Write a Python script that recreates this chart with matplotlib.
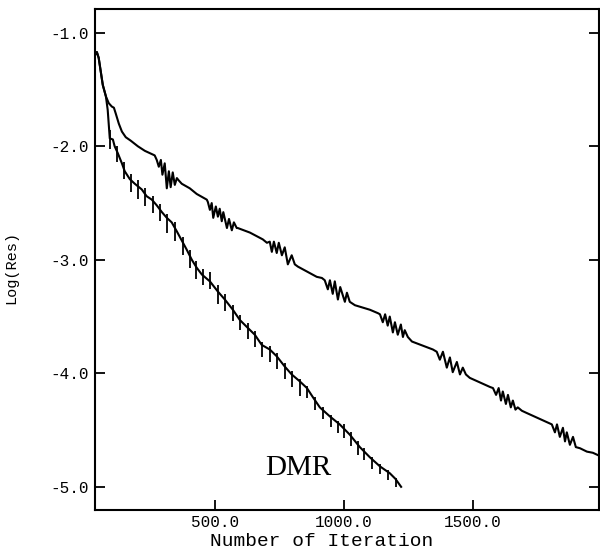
import matplotlib
matplotlib.use("Agg")
import matplotlib.pyplot as plt

plt.rcParams['axes.unicode_minus'] = False

# slower scheme: residual history with oscillation bursts
slow_it = [35, 43, 50, 58, 66, 78, 89, 101, 109, 116, 128, 140, 155, 174, 202, 229, 248, 267,
           275, 283, 291, 297, 306, 314, 322, 329, 337, 345, 353, 360, 372,
           403, 430, 469,
           473, 481, 488, 494, 504, 512, 519, 527, 533, 547, 555, 566, 574, 585, 589,
           636, 686,
           702, 713, 721, 729, 740, 748, 760, 771, 783, 798, 810, 822,
           895, 915,
           926, 938, 946, 957, 965, 977, 986, 1004, 1012, 1023, 1043, 1101, 1132,
           1140, 1151, 1160, 1170, 1178, 1190, 1198, 1209, 1221, 1229, 1236, 1248, 1264, 1345,
           1360, 1372, 1384, 1399, 1411, 1422, 1438, 1450, 1461, 1473, 1488, 1566,
           1578, 1590, 1600, 1609, 1616, 1628, 1636, 1647, 1655, 1665, 1674, 1690, 1709, 1787,
           1806, 1818, 1826, 1837, 1849, 1857, 1864, 1876, 1888, 1899, 1915, 1942, 1965, 1984]
slow_res = [-1.20, -1.17, -1.22, -1.34, -1.46, -1.56, -1.62, -1.65, -1.66, -1.71, -1.80, -1.87, -1.92, -1.95, -2.00, -2.04, -2.06, -2.08,
            -2.12, -2.18, -2.12, -2.25, -2.15, -2.37, -2.22, -2.36, -2.23, -2.34, -2.28, -2.30, -2.33,
            -2.37, -2.42, -2.47,
            -2.49, -2.56, -2.50, -2.63, -2.53, -2.62, -2.55, -2.66, -2.58, -2.72, -2.64, -2.74, -2.67, -2.72, -2.72,
            -2.76, -2.82,
            -2.85, -2.84, -2.93, -2.84, -2.94, -2.85, -2.96, -2.89, -3.04, -2.96, -3.04, -3.06,
            -3.15, -3.16,
            -3.18, -3.26, -3.18, -3.30, -3.19, -3.35, -3.24, -3.37, -3.29, -3.37, -3.40, -3.44, -3.47,
            -3.48, -3.55, -3.48, -3.58, -3.50, -3.64, -3.55, -3.66, -3.57, -3.68, -3.62, -3.68, -3.72, -3.79,
            -3.81, -3.88, -3.81, -3.95, -3.86, -3.99, -3.90, -4.01, -3.95, -4.01, -4.04, -4.12,
            -4.13, -4.19, -4.13, -4.24, -4.16, -4.27, -4.19, -4.30, -4.24, -4.32, -4.30, -4.33, -4.35, -4.43,
            -4.45, -4.52, -4.45, -4.56, -4.48, -4.60, -4.52, -4.63, -4.56, -4.65, -4.66, -4.69, -4.70, -4.72]

# faster scheme (DMR): smooth trend
fast_it = [35, 43, 50, 58, 66, 78, 85, 93, 105, 112, 124, 140, 151, 171, 190, 217, 236, 256, 275, 295,
           314, 333, 353, 372, 391, 411, 430, 450, 481, 512, 539, 570, 597, 628, 655, 682, 713, 740,
           771, 798, 829, 857, 880, 907, 946, 984, 1023, 1062, 1101, 1140, 1178, 1200, 1222]
fast_res = [-1.20, -1.17, -1.22, -1.34, -1.46, -1.56, -1.68, -1.93, -1.94, -2.00, -2.06, -2.15, -2.22, -2.29, -2.33, -2.38,
            -2.44, -2.47, -2.52, -2.58, -2.63, -2.67, -2.75, -2.83, -2.91, -3.00, -3.07, -3.13, -3.19, -3.28, -3.35,
            -3.44, -3.53, -3.60, -3.66, -3.75, -3.79, -3.85, -3.94, -4.01, -4.07, -4.13, -4.21, -4.30, -4.38, -4.45,
            -4.54, -4.65, -4.74, -4.82, -4.88, -4.93, -5.00]

# restart spikes on the DMR curve
spike_it = [93, 120, 147, 174, 202, 229, 260, 287, 314, 345, 376, 403, 426, 453, 481, 512, 539, 570, 597, 628,
            655, 682, 713, 740, 771, 798, 829, 857, 888, 919, 950, 977, 1000, 1027, 1054, 1078, 1109, 1140, 1171, 1202]
spike_top = [-1.86, -2.00, -2.14, -2.24, -2.30, -2.37, -2.44, -2.51, -2.60, -2.67, -2.80, -2.91, -3.01, -3.08, -3.11,
             -3.22, -3.30, -3.40, -3.49, -3.56, -3.63, -3.72, -3.76, -3.82, -3.91, -3.98, -4.05, -4.11, -4.21, -4.30,
             -4.37, -4.42, -4.45, -4.52, -4.60, -4.66, -4.74, -4.80, -4.85, -4.92]
spike_bot = [-2.02, -2.14, -2.29, -2.40, -2.46, -2.53, -2.59, -2.66, -2.76, -2.83, -2.96, -3.07, -3.17, -3.22, -3.26,
             -3.39, -3.45, -3.54, -3.62, -3.70, -3.77, -3.86, -3.90, -3.96, -4.05, -4.12, -4.20, -4.22, -4.32, -4.40,
             -4.47, -4.53, -4.57, -4.64, -4.72, -4.76, -4.84, -4.89, -4.94, -5.00]

x_ticks = [500, 1000, 1500]
y_ticks = [-1.0, -2.0, -3.0, -4.0, -5.0]

mono = 'Liberation Mono'

fig = plt.figure(figsize=(6.0, 5.53), dpi=100)
ax = fig.add_axes([0.158, 0.078, 0.84, 0.906])

ax.plot(slow_it, slow_res, color='black', lw=1.5)
ax.plot(fast_it, fast_res, color='black', lw=1.5)
ax.vlines(spike_it, spike_bot, spike_top, color='black', lw=1.3)

ax.text(822, -4.83, 'DMR', family='Liberation Serif', fontsize=21, ha='center', va='center')

ax.set_xlim(35, 1988)
ax.set_ylim(-5.203, -0.789)
ax.set_xticks(x_ticks)
ax.set_yticks(y_ticks)
ax.set_xticklabels(['%.1f' % v for v in x_ticks], family=mono, fontsize=11.5)
ax.set_yticklabels(['%.1f' % v for v in y_ticks], family=mono, fontsize=11.5)
ax.tick_params(direction='in', length=7, width=1.3, pad=4, right=True)

for s in ax.spines.values():
    s.set_linewidth(1.5)

ax.set_xlabel('Number of Iteration', family=mono, fontsize=14)
ax.set_ylabel('Log(Res)', family=mono, fontsize=11)
ax.xaxis.set_label_coords(0.45, -0.046)
ax.yaxis.set_label_coords(-0.151, 0.483)

fig.savefig('out.png', dpi=100)
